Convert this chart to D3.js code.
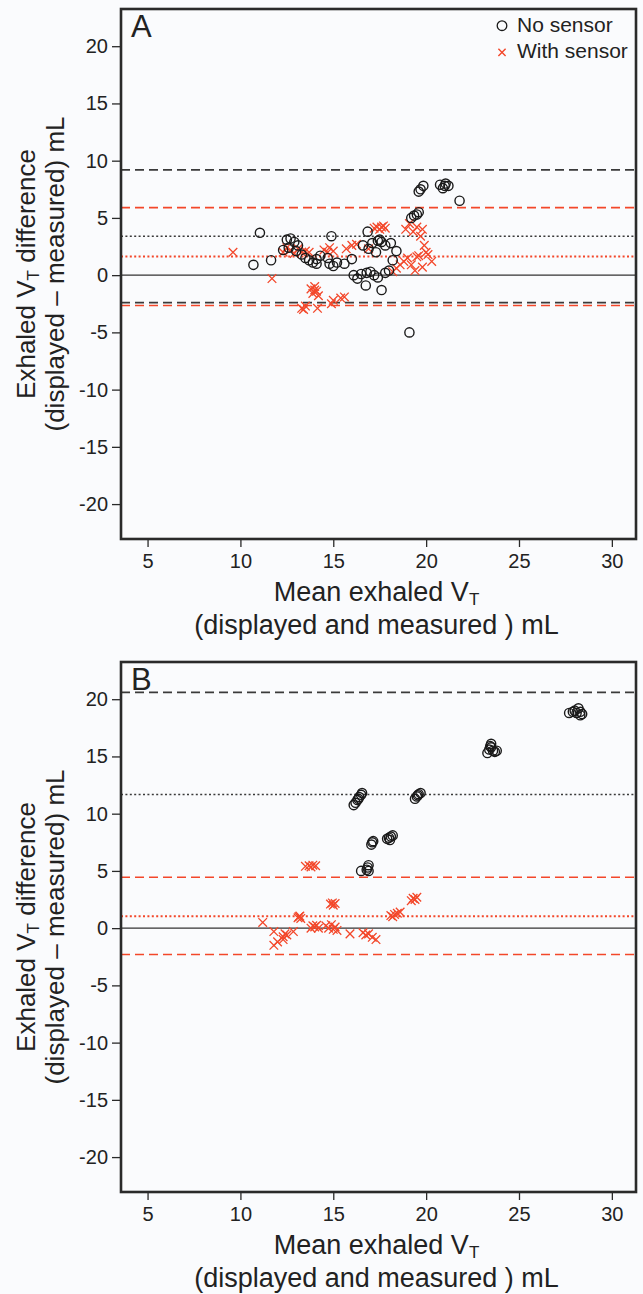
<!DOCTYPE html>
<html>
<head>
<meta charset="utf-8">
<script src="https://cdn.jsdelivr.net/npm/d3@7"></script>
<style>
    body { margin: 0; background: #fafbfd; }
    text { font-family: "Liberation Sans", Arial, sans-serif; fill: #222; }
</style>
</head>
<body>
<script>
//tick labels for both panels
var xTicks = [5, 10, 15, 20, 25, 30];
var yTicks = [-20, -15, -10, -5, 0, 5, 10, 15, 20];

//panel A points [mean, difference]
var aNoSensor = [
    [10.7, 0.9], [11.05, 3.7], [11.65, 1.3], [12.3, 2.2], [12.5, 3.1], [12.7, 3.2], [12.9, 2.9],
    [13.1, 2.6], [12.6, 2.4], [13.0, 2.1], [13.3, 1.8], [13.5, 1.5], [13.7, 1.3], [13.9, 1.1],
    [14.1, 1.4], [14.1, 1.0], [14.3, 1.7], [14.7, 1.5], [14.9, 3.4], [14.8, 1.0], [15.0, 0.8],
    [15.2, 1.1], [15.6, 1.0], [16.0, 1.4], [16.1, 0.0], [16.3, -0.3], [16.5, 0.1], [16.75, -0.9],
    [16.8, 0.2], [17.0, 0.3], [17.2, 0.0], [17.4, -0.2], [17.6, -1.3], [17.8, 0.2], [18.0, 0.4],
    [18.2, 1.3], [18.4, 2.1], [16.6, 2.6], [16.85, 3.8], [16.9, 2.3], [17.1, 2.8], [17.3, 2.0],
    [17.4, 3.0], [17.5, 3.1], [17.6, 2.9], [17.8, 2.6], [18.1, 2.8], [19.1, -5.0], [19.2, 5.0],
    [19.35, 5.2], [19.5, 5.3], [19.6, 5.5], [19.6, 7.3], [19.7, 7.5], [19.85, 7.8], [20.75, 7.9],
    [20.9, 7.6], [21.0, 7.8], [21.05, 8.0], [21.2, 7.8], [21.8, 6.5]
];
var aWithSensor = [
    [9.6, 2.0], [11.7, -0.3], [12.3, 2.0], [12.5, 2.4], [12.7, 2.2], [12.9, 1.9], [13.1, 2.3],
    [13.3, 2.0], [13.5, 2.1], [13.7, 2.0], [13.3, -2.9], [13.5, -2.7], [13.4, -3.0], [13.8, -1.2],
    [13.9, -1.6], [14.0, -1.0], [14.1, -1.4], [14.2, -1.8], [14.0, -1.3], [14.15, -2.9], [14.5, 2.2],
    [14.7, 2.0], [14.8, 2.4], [15.0, 2.1], [14.9, -2.5], [15.0, -2.2], [15.4, -2.0], [15.6, -1.9],
    [15.7, 2.3], [16.0, 2.6], [16.25, 2.7], [16.9, 2.3], [17.2, 4.1], [17.35, 4.2], [17.5, 4.0],
    [17.6, 4.2], [17.8, 4.1], [17.7, 4.3], [18.2, 0.3], [18.4, 0.6], [18.6, 0.9], [18.8, 1.2],
    [19.0, 1.5], [19.2, 0.9], [19.4, 0.4], [19.6, 1.7], [19.8, 0.7], [18.9, 4.0], [19.1, 4.5],
    [19.3, 3.8], [19.5, 4.2], [19.7, 3.4], [19.8, 4.0], [19.9, 2.6], [20.0, 2.0], [20.1, 1.8],
    [20.3, 1.2], [19.5, 1.6]
];

//panel B points [mean, difference]
var bNoSensor = [
    [16.1, 10.75], [16.2, 10.95], [16.3, 11.2], [16.4, 11.45], [16.5, 11.65], [16.55, 11.8], [16.35, 11.3],
    [19.4, 11.3], [19.5, 11.5], [19.6, 11.7], [19.7, 11.8], [19.55, 11.6],
    [17.05, 7.3], [17.1, 7.5], [17.15, 7.6],
    [17.9, 7.8], [18.0, 7.9], [18.1, 8.0], [18.2, 8.1], [18.05, 7.7],
    [16.5, 5.0], [16.8, 5.1], [16.85, 5.3], [16.9, 5.5], [16.9, 5.0],
    [23.3, 15.3], [23.4, 15.6], [23.45, 15.9], [23.5, 16.1], [23.6, 15.5], [23.7, 15.4], [23.8, 15.5], [23.5, 15.8],
    [27.7, 18.8], [27.9, 18.9], [28.1, 18.8], [28.2, 19.2], [28.3, 18.9], [28.3, 18.6], [28.4, 18.7], [28.0, 19.0]
];
var bWithSensor = [
    [11.2, 0.5], [11.8, -0.3], [11.8, -1.5], [12.0, -1.2], [12.3, -1.0], [12.3, -0.75], [12.4, -0.5],
    [12.5, -0.6], [12.85, -0.3], [13.1, 0.9], [13.15, 1.0], [13.2, 1.05], [13.25, 0.85],
    [13.5, 5.4], [13.7, 5.45], [13.8, 5.35], [13.9, 5.5], [14.05, 5.45],
    [13.8, 0.0], [13.9, 0.2], [14.0, 0.1], [14.1, 0.25], [14.2, 0.0],
    [14.85, 2.1], [14.95, 2.2], [15.0, 2.0], [15.1, 2.15],
    [14.6, 0.2], [14.75, 0.0], [14.9, 0.3], [15.0, -0.1], [15.1, 0.1], [15.2, -0.2],
    [15.9, -0.5], [16.6, -0.4], [16.75, -0.6], [16.9, -0.5], [17.1, -0.8], [17.3, -1.0],
    [18.1, 1.1], [18.2, 1.0], [18.3, 1.2], [18.45, 1.3], [18.6, 1.4],
    [19.2, 2.4], [19.3, 2.6], [19.4, 2.5], [19.5, 2.7]
];

//limits of agreement [lower, mean, upper] (null = not drawn)
var aNoSensorLimits = [-2.4, 3.4, 9.2];
var aWithSensorLimits = [-2.65, 1.62, 5.9];
var bNoSensorLimits = [null, 11.68, 20.6];
var bWithSensorLimits = [-2.3, 1.05, 4.45];

var panelLetters = ["A", "B"];
var legendLabels = ["No sensor", "With sensor"];

window.onload = function() {

    var W = 643, H = 1294;
    var red = "#f3472a", dark = "#2a2a2a";

    var svg = d3.select("body")
        .append("svg")
        .attr("width", W)
        .attr("height", H);

    //panel placement
    var left = 121, plotW = 515, plotH = 530;
    var tops = [9, 662];

    var x = d3.scaleLinear().domain([3.57, 31.3]).range([0, plotW]);
    var y = d3.scaleLinear().domain([-23.05, 23.25]).range([plotH, 0]);

    var panels = [
        { noS: aNoSensor, withS: aWithSensor, noL: aNoSensorLimits, withL: aWithSensorLimits },
        { noS: bNoSensor, withS: bWithSensor, noL: bNoSensorLimits, withL: bWithSensorLimits }
    ];

    //small x marker
    function cross(s) {
        return "M" + (-s) + "," + (-s) + "L" + s + "," + s + "M" + (-s) + "," + s + "L" + s + "," + (-s);
    }

    //plain hyphen minus like the original
    var fmt = function(d) { return String(d); };

    panels.forEach(function(p, i) {
        var g = svg.append("g")
            .attr("transform", "translate(" + left + "," + tops[i] + ")");

        //zero line
        g.append("line")
            .attr("x1", 0).attr("x2", plotW)
            .attr("y1", y(0)).attr("y2", y(0))
            .attr("stroke", "#333").attr("stroke-width", 1.3);

        //reference lines: dashed for limits, dotted for mean
        function refLines(vals, color, dotW) {
            vals.forEach(function(v, k) {
                if (v === null) return;
                g.append("line")
                    .attr("x1", 0).attr("x2", plotW)
                    .attr("y1", y(v)).attr("y2", y(v))
                    .attr("stroke", color)
                    .attr("stroke-width", k === 1 ? dotW : 1.6)
                    .attr("stroke-dasharray", k === 1 ? "2,2.4" : "9,5");
            });
        }
        refLines(p.noL, "#3a3a3a", 1.5);
        refLines(p.withL, red, 2);

        //with sensor crosses
        g.selectAll(".cross")
            .data(p.withS)
            .enter()
            .append("path")
            .attr("class", "cross")
            .attr("transform", function(d) {
                return "translate(" + x(d[0]) + "," + y(d[1]) + ")";
            })
            .attr("d", cross(4.3))
            .attr("fill", "none")
            .attr("stroke", red)
            .attr("stroke-width", 1.3);

        //no sensor circles
        g.selectAll(".circ")
            .data(p.noS)
            .enter()
            .append("circle")
            .attr("class", "circ")
            .attr("cx", function(d) { return x(d[0]); })
            .attr("cy", function(d) { return y(d[1]); })
            .attr("r", 4.6)
            .attr("fill", "none")
            .attr("stroke", "#1a1a1a")
            .attr("stroke-width", 1.4);

        //axes
        var yAxis = g.append("g")
            .call(d3.axisLeft(y).tickValues(yTicks).tickFormat(fmt).tickSize(9).tickPadding(4));
        var xAxis = g.append("g")
            .attr("transform", "translate(0," + plotH + ")")
            .call(d3.axisBottom(x).tickValues(xTicks).tickFormat(fmt).tickSize(8).tickPadding(7));
        [yAxis, xAxis].forEach(function(a) {
            a.select(".domain").remove();
            a.attr("font-size", 20).attr("font-family", null);
            a.selectAll("line").attr("stroke", dark).attr("stroke-width", 1.3);
            a.selectAll("text").attr("fill", "#222");
        });

        //frame
        g.append("rect")
            .attr("width", plotW).attr("height", plotH)
            .attr("fill", "none")
            .attr("stroke", dark)
            .attr("stroke-width", 2.6);

        //panel letter
        g.append("text")
            .attr("x", 10).attr("y", 27.6)
            .attr("font-size", 31)
            .text(panelLetters[i]);

        //x title
        var xt = g.append("text")
            .attr("x", plotW / 2 - 2).attr("y", plotH + 62)
            .attr("text-anchor", "middle")
            .attr("font-size", 27);
        xt.append("tspan").text("Mean exhaled V");
        xt.append("tspan").attr("font-size", 17).attr("dy", 4).text("T");
        g.append("text")
            .attr("x", plotW / 2 - 2).attr("y", plotH + 95)
            .attr("text-anchor", "middle")
            .attr("font-size", 27)
            .text("(displayed and measured ) mL");

        //y title
        var yt = g.append("text")
            .attr("transform", "translate(" + (35 - left) + "," + (plotH / 2) + ") rotate(-90)")
            .attr("text-anchor", "middle")
            .attr("font-size", 26);
        yt.append("tspan").text("Exhaled V");
        yt.append("tspan").attr("font-size", 17).attr("dy", 4).text("T");
        yt.append("tspan").attr("dy", -4).text(" difference");
        g.append("text")
            .attr("transform", "translate(" + (64 - left) + "," + (plotH / 2) + ") rotate(-90)")
            .attr("text-anchor", "middle")
            .attr("font-size", 26)
            .text("(displayed \u2013 measured) mL");

        //legend only in panel A
        if (i === 0) {
            var lg = g.append("g").attr("transform", "translate(" + (502 - left) + ",0)");
            lg.append("circle")
                .attr("cx", 0).attr("cy", 25.7 - tops[0])
                .attr("r", 4.8)
                .attr("fill", "none").attr("stroke", "#1a1a1a").attr("stroke-width", 1.3);
            lg.append("path")
                .attr("transform", "translate(0," + (52.3 - tops[0]) + ")")
                .attr("d", cross(3.6))
                .attr("stroke", red).attr("stroke-width", 1.4);
            lg.selectAll(".lt")
                .data(legendLabels)
                .enter()
                .append("text")
                .attr("class", "lt")
                .attr("x", 15)
                .attr("y", function(d, k) { return 31.7 - tops[0] + k * 26.6; })
                .attr("font-size", 21)
                .text(function(d) { return d; });
        }
    });
};
</script>
</body>
</html>
